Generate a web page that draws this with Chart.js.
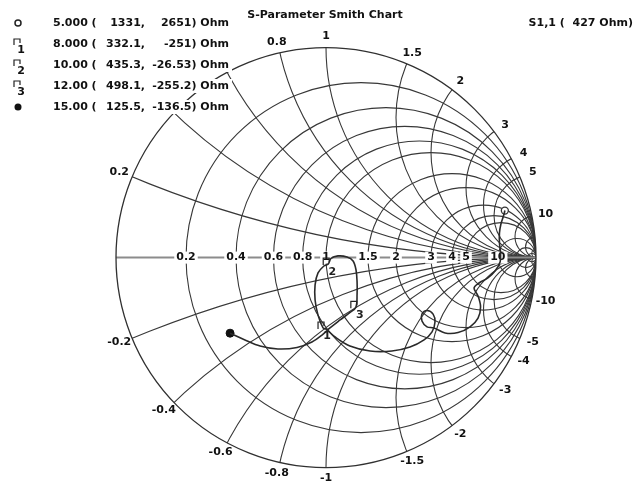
<!DOCTYPE html>
<html>
<head>
<meta charset="utf-8">
<script src="https://cdn.jsdelivr.net/npm/chart.js@4/dist/chart.umd.min.js"></script>
<style>
  body { margin: 0; background: #fff; }
  #wrap { width: 635px; height: 481px; position: relative; }
</style>
</head>
<body>
<div id="wrap"><canvas id="smith"></canvas></div>
<script>
// chart values
const z0 = 427;
const markerFreq = ['5.000', '8.000', '10.00', '12.00', '15.00'];
const markerR = [1331, 332.1, 435.3, 498.1, 125.5];
const markerX = [2651, -251, -26.53, -255.2, -136.5];
const markerRText = ['1331,', '332.1,', '435.3,', '498.1,', '125.5,'];
const markerXText = ['2651) Ohm', '-251) Ohm', '-26.53) Ohm', '-255.2) Ohm', '-136.5) Ohm'];

// grid values
const resistanceCircles = [0.2, 0.4, 0.6, 0.8, 1, 1.5, 2, 3, 4, 5, 10, 20, 50];
const reactanceArcs = [0.2, 0.4, 0.6, 0.8, 1, 1.5, 2, 3, 4, 5, 10, 20, 50];
const axisLabels = [0.2, 0.4, 0.6, 0.8, 1, 1.5, 2, 3, 4, 5, 10];
const rimLabels = [0.2, 0.8, 1, 1.5, 2, 3, 4, 5, 10, -0.2, -0.4, -0.6, -0.8, -1, -1.5, -2, -3, -4, -5, -10];

// S1,1 trace, reflection coefficient (5 GHz -> 15 GHz)
const traceRe = [0.852, 0.845, 0.833, 0.826, 0.826, 0.831, 0.829, 0.805, 0.771, 0.729, 0.705, 0.724,
  0.736, 0.724, 0.686, 0.629, 0.567, 0.514, 0.481, 0.457, 0.457, 0.481, 0.510, 0.519, 0.505, 0.467,
  0.400, 0.314, 0.210, 0.114, 0.043, 0.000, -0.014, -0.038, -0.052, -0.052, -0.038, -0.010, 0.011,
  0.024, 0.057, 0.100, 0.129, 0.143, 0.148, 0.148, 0.142, 0.110, 0.067, 0.019, -0.019, -0.067,
  -0.138, -0.229, -0.314, -0.386, -0.457];
const traceIm = [0.224, 0.198, 0.160, 0.117, 0.070, 0.022, -0.021, -0.064, -0.097, -0.121, -0.145, -0.183,
  -0.235, -0.288, -0.330, -0.357, -0.359, -0.335, -0.330, -0.302, -0.269, -0.252, -0.269, -0.307, -0.354, -0.392,
  -0.426, -0.445, -0.445, -0.421, -0.378, -0.340, -0.335, -0.274, -0.202, -0.130, -0.073, -0.040, -0.030,
  -0.004, 0.008, 0.003, -0.016, -0.059, -0.116, -0.173, -0.237, -0.264, -0.297, -0.335, -0.369, -0.402,
  -0.428, -0.435, -0.421, -0.392, -0.360];

const FONT = 'bold 11px "DejaVu Sans", Verdana, sans-serif';

function gamma(r, x) {
    // normalised impedance -> reflection coefficient
    const zr = r / z0, zx = x / z0;
    const d = (zr + 1) * (zr + 1) + zx * zx;
    return { x: ((zr - 1) * (zr + 1) + zx * zx) / d, y: (2 * zx) / d };
}

const markerPts = markerR.map((r, i) => gamma(r, markerX[i]));

function drawFlag(ctx, px, py, num) {
    ctx.save();
    ctx.strokeStyle = '#222';
    ctx.lineWidth = 1.2;
    ctx.beginPath();
    ctx.moveTo(px - 5, py + 1);
    ctx.lineTo(px - 5, py - 6);
    ctx.lineTo(px + 1, py - 6);
    ctx.lineTo(px + 1, py - 2);
    ctx.stroke();
    ctx.fillStyle = '#222';
    ctx.font = FONT;
    ctx.textAlign = 'center';
    ctx.textBaseline = 'middle';
    ctx.fillText(num, px + 4, py + 8);
    ctx.restore();
}

function labelWithBg(ctx, text, px, py) {
    const w = ctx.measureText(text).width;
    ctx.fillStyle = '#fff';
    ctx.fillRect(px - w / 2 - 2, py - 6, w + 4, 12);
    ctx.fillStyle = '#111';
    ctx.fillText(text, px, py);
}

const smithGrid = {
    id: 'smithGrid',
    beforeDatasetsDraw(chart) {
        const { ctx } = chart;
        const sx = chart.scales.x, sy = chart.scales.y;
        const cx = sx.getPixelForValue(0), cy = sy.getPixelForValue(0);
        const R = sx.getPixelForValue(1) - cx;

        ctx.save();
        ctx.beginPath();
        ctx.arc(cx, cy, R, 0, Math.PI * 2);
        ctx.clip();
        ctx.strokeStyle = '#383838';
        ctx.lineWidth = 1.1;
        resistanceCircles.forEach(r => {
            ctx.beginPath();
            ctx.arc(sx.getPixelForValue(r / (1 + r)), cy, R / (1 + r), 0, Math.PI * 2);
            ctx.stroke();
        });
        reactanceArcs.forEach(v => {
            [v, -v].forEach(xv => {
                ctx.beginPath();
                ctx.arc(sx.getPixelForValue(1), sy.getPixelForValue(1 / xv), R / v, 0, Math.PI * 2);
                ctx.stroke();
            });
        });
        ctx.restore();

        // real axis
        ctx.save();
        ctx.strokeStyle = '#8c8c8c';
        ctx.lineWidth = 2;
        ctx.beginPath();
        ctx.moveTo(cx - R, cy);
        ctx.lineTo(cx + R, cy);
        ctx.stroke();

        // outer circle
        ctx.strokeStyle = '#303030';
        ctx.lineWidth = 1.3;
        ctx.beginPath();
        ctx.arc(cx, cy, R, 0, Math.PI * 2);
        ctx.stroke();

        ctx.font = FONT;
        ctx.textAlign = 'center';
        ctx.textBaseline = 'middle';
        axisLabels.forEach(r => {
            const g = (r - 1) / (r + 1);
            labelWithBg(ctx, String(r), sx.getPixelForValue(g), cy);
        });
        ctx.fillStyle = '#111';
        rimLabels.forEach(xv => {
            const th = xv > 0 ? Math.PI - 2 * Math.atan(xv) : -(Math.PI - 2 * Math.atan(-xv));
            ctx.fillText(String(xv), cx + (R + 14) * Math.cos(th), cy - (R + 11) * Math.sin(th));
        });
        ctx.restore();
    },
    afterDraw(chart) {
        const { ctx } = chart;
        const sx = chart.scales.x, sy = chart.scales.y;
        ctx.save();
        // marker flags on the trace
        [1, 2, 3].forEach(i => {
            drawFlag(ctx, sx.getPixelForValue(markerPts[i].x), sy.getPixelForValue(markerPts[i].y), String(i));
        });

        ctx.font = FONT;
        ctx.fillStyle = '#111';
        ctx.textBaseline = 'middle';
        ctx.textAlign = 'center';
        ctx.fillText('S-Parameter Smith Chart', 325, 15);
        ctx.textAlign = 'right';
        ctx.fillText('S1,1 (  ' + z0 + ' Ohm)', 633, 23);

        // marker readout
        const rows = [23, 44, 65, 86, 107];
        rows.forEach((y, i) => {
            ctx.fillStyle = '#fff';
            ctx.fillRect(50, y - 7, 182, 14);
            ctx.fillStyle = '#111';
            ctx.textAlign = 'left';
            ctx.fillText(markerFreq[i] + ' (', 53, y);
            ctx.textAlign = 'right';
            ctx.fillText(markerRText[i], 145, y);
            ctx.fillText(markerXText[i], 229, y);
        });
        ctx.strokeStyle = '#222';
        ctx.lineWidth = 1.5;
        ctx.beginPath();
        ctx.arc(18, rows[0], 3, 0, Math.PI * 2);
        ctx.stroke();
        [1, 2, 3].forEach(i => {
            const y = rows[i];
            ctx.lineWidth = 1.2;
            ctx.beginPath();
            ctx.moveTo(14, y + 1);
            ctx.lineTo(14, y - 5);
            ctx.lineTo(20, y - 5);
            ctx.lineTo(20, y - 1);
            ctx.stroke();
            ctx.textAlign = 'center';
            ctx.fillText(String(i), 21, y + 6);
        });
        ctx.fillStyle = '#111';
        ctx.beginPath();
        ctx.arc(18, rows[4], 3.5, 0, Math.PI * 2);
        ctx.fill();
        ctx.restore();
    }
};

const ctx = document.getElementById('smith').getContext('2d');
new Chart(ctx, {
    type: 'scatter',
    data: {
        datasets: [{
            label: 'S1,1',
            data: traceRe.map((v, i) => ({ x: v, y: traceIm[i] })),
            showLine: true,
            borderColor: '#2a2a2a',
            borderWidth: 1.6,
            tension: 0.35,
            pointRadius: 0
        }, {
            label: 'start',
            data: [markerPts[0]],
            pointRadius: 3.5,
            pointBorderWidth: 1.3,
            pointBackgroundColor: '#fff',
            pointBorderColor: '#333'
        }, {
            label: 'end',
            data: [markerPts[4]],
            pointRadius: 4,
            pointBackgroundColor: '#111',
            pointBorderColor: '#111'
        }]
    },
    options: {
        responsive: true,
        maintainAspectRatio: false,
        animation: false,
        layout: { padding: 0, autoPadding: false },
        plugins: { legend: { display: false }, tooltip: { enabled: false } },
        scales: {
            x: { type: 'linear', display: false, min: -326 / 210, max: 309 / 210 },
            y: { type: 'linear', display: false, min: (257.6 - 481) / 210, max: 257.6 / 210 }
        }
    },
    plugins: [smithGrid]
});
</script>
</body>
</html>
